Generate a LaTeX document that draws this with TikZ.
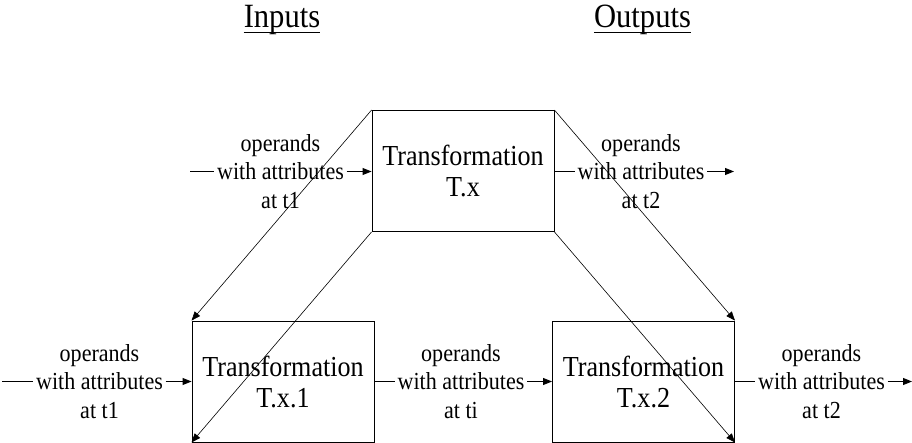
\documentclass[tikz,border=0pt]{standalone}
\usepackage{fontspec}
\setmainfont{Liberation Serif}[FakeStretch=0.9]
\usetikzlibrary{arrows.meta}
\begin{document}
\begin{tikzpicture}[x=1pt,y=-1pt,
  tbox/.style={draw,line width=0.9pt,minimum width=182pt,minimum height=121pt,inner sep=0pt,align=center,
    font=\fontsize{29}{31}\selectfont},
  lbl/.style={align=center,inner ysep=0pt,inner xsep=2.5pt,font=\fontsize{24.5}{28.5}\selectfont},
  head/.style={inner sep=0pt,font=\fontsize{34}{38}\selectfont},
  flow/.style={line width=0.9pt},
  flowarrow/.style={line width=0.9pt,-{Triangle[length=9pt,width=7pt]}},
  diag/.style={line width=0.6pt,-{Triangle[length=9pt,width=7pt]}}]
\useasboundingbox (0,0) rectangle (912,443);
% boxes
\node[tbox] (tx) at (463,171) {Transformation\\T.x};
\node[tbox] (tx1) at (283,381.5) {Transformation\\T.x.1};
\node[tbox] (tx2) at (643.5,381.5) {Transformation\\T.x.2};
% headings
\node[head,anchor=base] (inp) at (282,28) {Inputs};
\node[head,anchor=base] (outp) at (642.5,28) {Outputs};
\draw[line width=1.2pt] ([yshift=-4.5pt]inp.base west) -- ([yshift=-4.5pt]inp.base east);
\draw[line width=1.2pt] ([yshift=-4.5pt]outp.base west) -- ([yshift=-4.5pt]outp.base east);
% labels
\node[lbl] (l1) at (280.5,171.5) {operands\\with attributes\\at t1};
\node[lbl] (l2) at (641,171.5) {operands\\with attributes\\at t2};
\node[lbl] (l3) at (99.5,381.5) {operands\\with attributes\\at t1};
\node[lbl] (l4) at (461,381.5) {operands\\with attributes\\at ti};
\node[lbl] (l5) at (821.5,381.5) {operands\\with attributes\\at t2};
\coordinate (s1) at (190,171.5);
\coordinate (e2) at (734,171.5);
\coordinate (s3) at (2,381.5);
\coordinate (e5) at (912,381.5);
% flows
\draw[flow] (s1) -- (l1.west |- s1);
\draw[flowarrow] (l1.east |- s1) -- (tx.west |- s1);
\draw[flow] (tx.east |- e2) -- (l2.west |- e2);
\draw[flowarrow] (l2.east |- e2) -- (e2);
\draw[flow] (s3) -- (l3.west |- s3);
\draw[flowarrow] (l3.east |- s3) -- (tx1.west);
\draw[flow] (tx1.east) -- (l4.west |- tx1.east);
\draw[flowarrow] (l4.east |- tx1.east) -- (tx2.west);
\draw[flow] (tx2.east) -- (l5.west |- tx2.east);
\draw[flowarrow] (l5.east |- tx2.east) -- (e5);
% decomposition diagonals
\draw[diag] (tx.north west) -- (tx1.north west);
\draw[diag] (tx.south west) -- (tx1.south west);
\draw[diag] (tx.north east) -- (tx2.north east);
\draw[diag] (tx.south east) -- (tx2.south east);
\end{tikzpicture}
\end{document}
